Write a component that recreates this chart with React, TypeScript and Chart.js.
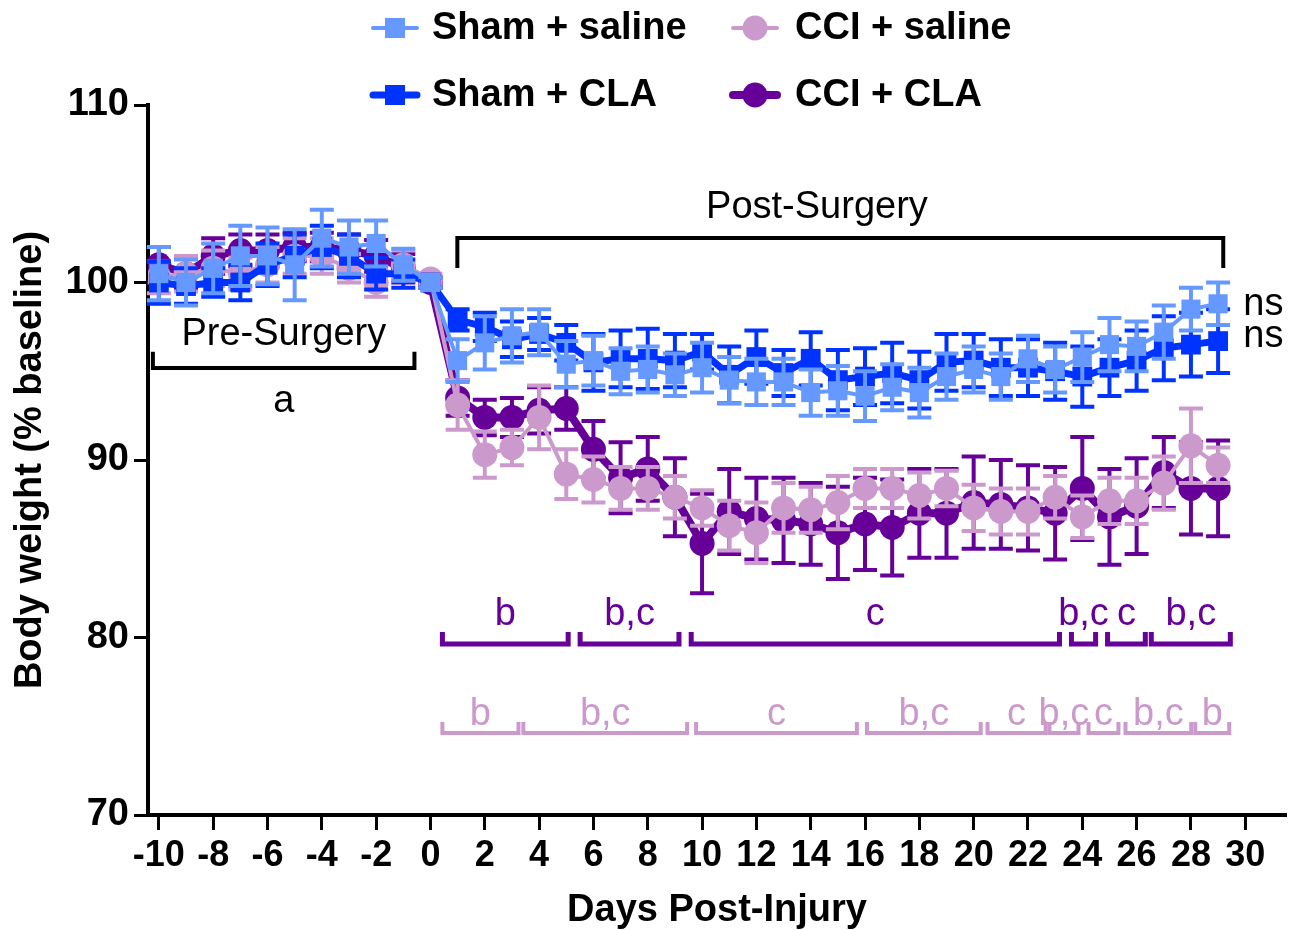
import React, { useEffect, useRef } from "react";
import { Chart, registerables } from "chart.js";

Chart.register(...registerables);

// ---------------- DATA ----------------
const days = [
  -10, -9, -8, -7, -6, -5, -4, -3, -2, -1, 0,
  1, 2, 3, 4, 5, 6, 7, 8, 9, 10, 11, 12, 13, 14, 15, 16, 17, 18, 19, 20,
  21, 22, 23, 24, 25, 26, 27, 28, 29,
];

const shamSaline = [
  100.5, 100.0, 100.8, 101.5, 101.5, 101.0, 102.5, 102.0, 102.2, 101.0, 100.0,
  95.6, 96.6, 97.0, 97.2, 95.4, 95.6, 95.0, 95.1, 94.8, 95.2, 94.5, 94.4, 94.4, 93.8, 93.9, 93.6, 94.1, 93.8, 94.7, 95.1,
  94.7, 95.7, 95.1, 95.8, 96.5, 96.4, 97.2, 98.5, 98.8,
];
const shamSalineErr = [
  1.5, 1.3, 1.4, 1.7, 1.6, 2.0, 1.6, 1.5, 1.3, 0.9, 0.3,
  1.2, 1.5, 1.5, 1.3, 1.3, 1.4, 1.3, 1.3, 1.2, 1.4, 1.3, 1.3, 1.3, 1.3, 1.4, 1.4, 1.3, 1.4, 1.3, 1.3,
  1.3, 1.3, 1.3, 1.4, 1.5, 1.4, 1.5, 1.2, 1.2,
];

const shamCLA = [
  100.0, 99.8, 100.0, 100.0, 101.0, 101.5, 102.0, 101.5, 100.5, 100.5, 100.0,
  97.9, 97.5, 96.8, 97.1, 96.6, 95.5, 95.7, 95.7, 95.6, 96.1, 94.8, 95.8, 94.9, 95.7, 94.5, 94.7, 94.9, 94.5, 95.5, 95.6,
  95.2, 95.2, 95.0, 94.7, 95.2, 95.6, 96.3, 96.5, 96.7,
];
const shamCLAErr = [
  1.2, 1.0, 0.8, 1.0, 1.2, 1.2, 1.2, 1.2, 0.9, 0.8, 0.3,
  0.6, 0.8, 1.0, 0.9, 1.0, 1.6, 1.6, 1.7, 1.5, 1.0, 1.6, 1.5, 1.3, 1.5, 1.7, 1.6, 1.7, 1.6, 1.6, 1.5,
  1.6, 1.6, 1.6, 1.7, 1.6, 1.7, 1.8, 1.8, 1.8,
];

const cciSaline = [
  100.3, 100.5, 100.8, 100.5, 101.0, 101.5, 101.5, 100.8, 100.0, 101.0, 100.2,
  93.1, 90.3, 90.7, 92.4, 89.2, 88.9, 88.4, 88.4, 87.9, 87.3, 86.3, 85.9, 87.3, 87.2, 87.6, 88.4, 88.4, 88.0, 88.4, 87.3,
  87.1, 87.1, 87.9, 86.8, 87.7, 87.7, 88.7, 90.8, 89.7,
];
const cciSalineErr = [
  0.9, 1.0, 1.0, 0.9, 1.0, 1.0, 1.0, 0.8, 0.8, 0.8, 0.3,
  1.4, 1.3, 1.0, 1.8, 1.4, 1.3, 1.2, 1.2, 1.2, 1.0, 1.4, 1.7, 1.4, 1.3, 1.5, 1.1, 1.1, 1.3, 1.0, 1.3,
  1.3, 1.3, 1.2, 1.2, 1.3, 1.3, 1.5, 2.1, 1.0,
];

const cciCLA = [
  101.0, 100.5, 101.5, 101.8, 101.8, 102.0, 102.0, 101.8, 101.5, 100.8, 100.0,
  93.5, 92.4, 92.4, 92.8, 92.9, 90.6, 89.0, 89.5, 87.9, 85.3, 87.1, 86.7, 86.6, 86.4, 85.9, 86.4, 86.2, 87.0, 87.0, 87.6,
  87.5, 87.3, 87.0, 88.4, 86.8, 87.4, 89.3, 88.4, 88.4,
];
const cciCLAErr = [
  1.0, 0.9, 1.0, 0.9, 0.9, 0.8, 0.8, 0.9, 0.9, 0.8, 0.3,
  1.0, 1.0, 1.1, 1.3, 1.2, 1.6, 2.0, 1.8, 2.2, 2.8, 2.4, 2.3, 2.4, 2.3, 2.6, 2.6, 2.7, 2.5, 2.5, 2.6,
  2.5, 2.4, 2.6, 2.9, 2.7, 2.7, 2.0, 2.6, 2.7,
];

const seriesNames = ["Sham + saline", "Sham + CLA", "CCI + saline", "CCI + CLA"];

const xTickValues = [-10, -8, -6, -4, -2, 0, 2, 4, 6, 8, 10, 12, 14, 16, 18, 20, 22, 24, 26, 28, 30];
const yTickValues = [70, 80, 90, 100, 110];

// Significance brackets (x in days)
const cciCLASpans = [
  [0.44, 5.07], [5.51, 9.15], [9.6, 23.16], [23.6, 24.49], [24.93, 26.32], [26.54, 29.45],
];
const cciCLALabels = ["b", "b,c", "c", "b,c", "c", "b,c"];
const cciSalineSpans = [
  [0.44, 3.24], [3.42, 9.45], [9.78, 15.7], [16.07, 20.26], [20.51, 22.65],
  [22.79, 23.86], [24.23, 25.33], [25.59, 28.01], [28.16, 29.41],
];
const cciSalineLabels = ["b", "b,c", "c", "b,c", "c", "b,c", "c", "b,c", "b"];

// ---------------- STYLE ----------------
const FONT = '"Liberation Sans", Arial, Helvetica, sans-serif';
const C_SHAM_SAL = "#6699FF";
const C_SHAM_CLA = "#0033FF";
const C_CCI_SAL = "#CC99CC";
const C_CCI_CLA = "#660099";

const errorBarPlugin = {
  id: "errorBars",
  beforeDatasetDraw(chart: any, args: any) {
    const ds = chart.data.datasets[args.index];
    const errs: number[] = ds.errors;
    if (!errs) return;
    const { ctx, scales } = chart;
    const xs = scales.x;
    const ys = scales.y;
    ctx.save();
    ctx.strokeStyle = ds.borderColor;
    ctx.lineWidth = 4;
    ctx.lineCap = "butt";
    const capHalf = 12;
    ds.data.forEach((pt: any, i: number) => {
      const px = xs.getPixelForValue(pt.x);
      const yTop = ys.getPixelForValue(pt.y + errs[i]);
      const yBot = ys.getPixelForValue(pt.y - errs[i]);
      ctx.beginPath();
      ctx.moveTo(px, yTop);
      ctx.lineTo(px, yBot);
      ctx.moveTo(px - capHalf, yTop);
      ctx.lineTo(px + capHalf, yTop);
      ctx.moveTo(px - capHalf, yBot);
      ctx.lineTo(px + capHalf, yBot);
      ctx.stroke();
    });
    ctx.restore();
  },
};

const annotationPlugin = {
  id: "annotations",
  afterDatasetsDraw(chart: any) {
    const { ctx, scales } = chart;
    const xs = scales.x;
    const ys = scales.y;
    const X = (v: number) => xs.getPixelForValue(v);
    const Y = (v: number) => ys.getPixelForValue(v);
    ctx.save();
    ctx.lineCap = "butt";
    ctx.lineJoin = "miter";

    // Pre-surgery bracket (ends up)
    ctx.strokeStyle = "#000";
    ctx.lineWidth = 4;
    ctx.beginPath();
    ctx.moveTo(X(-10.22), Y(96.1));
    ctx.lineTo(X(-10.22), Y(95.18));
    ctx.lineTo(X(-0.59), Y(95.18));
    ctx.lineTo(X(-0.59), Y(96.1));
    ctx.stroke();

    ctx.fillStyle = "#000";
    ctx.textAlign = "center";
    ctx.textBaseline = "alphabetic";
    ctx.font = `normal 38px ${FONT}`;
    ctx.fillText("Pre-Surgery", X(-5.4), Y(96.48));
    ctx.fillText("a", X(-5.4), Y(92.7));

    // Post-surgery bracket (ends down)
    ctx.beginPath();
    ctx.moveTo(X(0.99), Y(100.82));
    ctx.lineTo(X(0.99), Y(102.51));
    ctx.lineTo(X(29.19), Y(102.51));
    ctx.lineTo(X(29.19), Y(100.82));
    ctx.stroke();
    ctx.fillText("Post-Surgery", X(14.23), Y(103.63));

    // ns labels
    ctx.textAlign = "left";
    ctx.fillText("ns", X(29.93), Y(98.17));
    ctx.fillText("ns", X(29.93), Y(96.37));

    // CCI + CLA significance brackets
    const drawSet = (
      spans: number[][],
      labels: string[],
      color: string,
      lineY: number,
      endY: number,
      textY: number,
      lw: number
    ) => {
      ctx.strokeStyle = color;
      ctx.fillStyle = color;
      ctx.lineWidth = lw;
      ctx.textAlign = "center";
      ctx.font = `normal 38px ${FONT}`;
      spans.forEach((s, i) => {
        ctx.beginPath();
        ctx.moveTo(X(s[0]), Y(endY));
        ctx.lineTo(X(s[0]), Y(lineY));
        ctx.lineTo(X(s[1]), Y(lineY));
        ctx.lineTo(X(s[1]), Y(endY));
        ctx.stroke();
        ctx.fillText(labels[i], X((s[0] + s[1]) / 2), Y(textY));
      });
    };
    drawSet(cciCLASpans, cciCLALabels, C_CCI_CLA, 79.63, 80.31, 80.7, 5);
    drawSet(cciSalineSpans, cciSalineLabels, C_CCI_SAL, 74.62, 75.24, 75.07, 4);

    ctx.restore();
  },
};

const legendPlugin = {
  id: "customLegend",
  afterDraw(chart: any) {
    const { ctx } = chart;
    ctx.save();
    const items = [
      { name: seriesNames[0], color: C_SHAM_SAL, shape: "rect", lw: 4, mx: 395, tx: 432, y: 28 },
      { name: seriesNames[2], color: C_CCI_SAL, shape: "circle", lw: 4, mx: 755, tx: 795, y: 28 },
      { name: seriesNames[1], color: C_SHAM_CLA, shape: "rect", lw: 7, mx: 395, tx: 432, y: 95 },
      { name: seriesNames[3], color: C_CCI_CLA, shape: "circle", lw: 8, mx: 755, tx: 795, y: 95 },
    ];
    items.forEach((it) => {
      ctx.strokeStyle = it.color;
      ctx.fillStyle = it.color;
      ctx.lineWidth = it.lw;
      ctx.lineCap = "round";
      ctx.beginPath();
      ctx.moveTo(it.mx - 22, it.y);
      ctx.lineTo(it.mx + 22, it.y);
      ctx.stroke();
      if (it.shape === "rect") {
        ctx.fillRect(it.mx - 10, it.y - 10, 20, 20);
      } else {
        ctx.beginPath();
        ctx.arc(it.mx, it.y, 12.5, 0, Math.PI * 2);
        ctx.fill();
      }
      ctx.fillStyle = "#000";
      ctx.font = `bold 38px ${FONT}`;
      ctx.textAlign = "left";
      ctx.textBaseline = "middle";
      ctx.fillText(it.name, it.tx, it.y + 1);
    });
    ctx.restore();
  },
};

const toPoints = (vals: number[]) => days.map((d, i) => ({ x: d, y: vals[i] }));

export default function App() {
  const ref = useRef<HTMLCanvasElement>(null);

  useEffect(() => {
    if (!ref.current) return;
    const mk = (
      label: string,
      vals: number[],
      errs: number[],
      color: string,
      style: string,
      radius: number,
      lw: number
    ) => ({
      label,
      data: toPoints(vals),
      errors: errs,
      borderColor: color,
      backgroundColor: color,
      pointBackgroundColor: color,
      pointBorderColor: color,
      pointBorderWidth: 0,
      pointStyle: style,
      pointRadius: radius,
      pointHoverRadius: radius,
      borderWidth: lw,
      borderCapStyle: "round",
      tension: 0,
      fill: false,
      showLine: true,
    });

    const chart = new Chart(ref.current, {
      type: "line",
      data: {
        datasets: [
          mk(seriesNames[0], shamSaline, shamSalineErr, C_SHAM_SAL, "rect", 13.5, 4),
          mk(seriesNames[1], shamCLA, shamCLAErr, C_SHAM_CLA, "rect", 14, 7),
          mk(seriesNames[2], cciSaline, cciSalineErr, C_CCI_SAL, "circle", 12.5, 4),
          mk(seriesNames[3], cciCLA, cciCLAErr, C_CCI_CLA, "circle", 12.5, 8),
        ] as any,
      },
      options: {
        responsive: false,
        devicePixelRatio: 1,
        animation: false,
        events: [],
        layout: { padding: { top: 105, right: 12, left: 0, bottom: 0 } },
        plugins: {
          legend: { display: false },
          tooltip: { enabled: false },
          title: { display: false },
        },
        scales: {
          x: {
            type: "linear",
            min: -10.4,
            max: 31.5,
            afterFit: (s: any) => {
              s.height = 115;
            },
            afterBuildTicks: (s: any) => {
              s.ticks = xTickValues.map((v) => ({ value: v }));
            },
            border: { display: true, color: "#000", width: 4 },
            grid: {
              display: true,
              drawOnChartArea: false,
              drawTicks: true,
              tickLength: 15,
              tickWidth: 3,
              tickColor: "#000",
            },
            ticks: {
              color: "#000",
              padding: 4,
              maxRotation: 0,
              autoSkip: false,
              font: { family: FONT, size: 36, weight: "bold" },
              callback: (v: any) => String(v),
            },
            title: {
              display: true,
              text: "Days Post-Injury",
              color: "#000",
              font: { family: FONT, size: 38, weight: "bold", lineHeight: 1.0 },
              padding: { top: 0, bottom: 0 },
            },
          },
          y: {
            type: "linear",
            min: 70,
            max: 110,
            afterFit: (s: any) => {
              s.width = 148;
            },
            afterBuildTicks: (s: any) => {
              s.ticks = yTickValues.map((v) => ({ value: v }));
            },
            border: { display: true, color: "#000", width: 4 },
            grid: {
              display: true,
              drawOnChartArea: false,
              drawTicks: true,
              tickLength: 14,
              tickWidth: 3,
              tickColor: "#000",
            },
            ticks: {
              color: "#000",
              padding: 5,
              font: { family: FONT, size: 38, weight: "bold" },
              callback: (v: any) => String(v),
            },
            title: {
              display: true,
              text: "Body weight (% baseline)",
              color: "#000",
              font: { family: FONT, size: 38, weight: "bold", lineHeight: 1.2 },
              padding: { top: 8, bottom: 0 },
            },
          },
        },
      } as any,
      plugins: [errorBarPlugin, annotationPlugin, legendPlugin],
    });
    return () => chart.destroy();
  }, []);

  return (
    <div style={{ position: "absolute", left: 0, top: 0, width: 1300, height: 930, background: "#fff" }}>
      <canvas ref={ref} width={1300} height={930} style={{ display: "block", width: 1300, height: 930 }} />
    </div>
  );
}
